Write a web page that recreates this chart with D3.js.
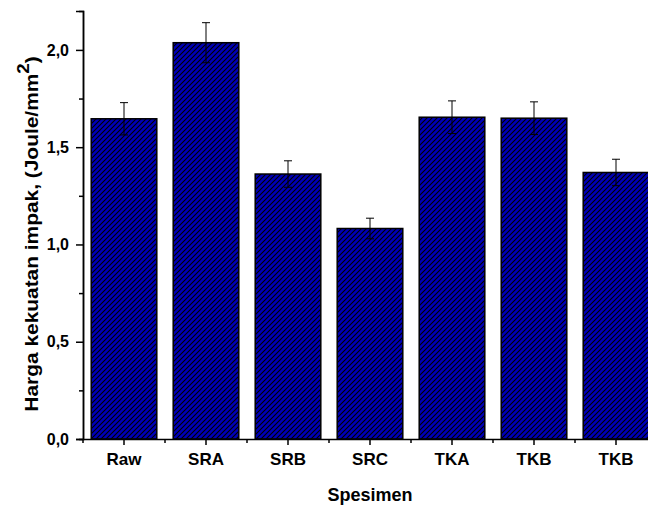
<!DOCTYPE html>
<html>
<head>
<meta charset="utf-8">
<script src="https://cdn.jsdelivr.net/npm/d3@7"></script>
<style>
  body { margin: 0; background: #fff; }
  text { font-family: "Liberation Sans", Arial, sans-serif; font-weight: bold; }
</style>
</head>
<body>
<div id="chart"></div>
<script>
var categories = ["Raw", "SRA", "SRB", "SRC", "TKA", "TKB", "TKB2"];
var labels = ["Raw", "SRA", "SRB", "SRC", "TKA", "TKB", "TKB"];
var values = [1.646, 2.037, 1.362, 1.082, 1.654, 1.649, 1.370];
var errors = [0.083, 0.103, 0.068, 0.053, 0.084, 0.084, 0.068];
var yTicks = [0, 0.5, 1.0, 1.5, 2.0];

var W = 648, H = 505;
var margin = {top: 11, left: 83, bottom: 66};
var plotH = H - margin.top - margin.bottom;

var svg = d3.select("#chart").append("svg")
    .attr("width", W)
    .attr("height", H);

// hatch pattern
var defs = svg.append("defs");
var pat = defs.append("pattern")
    .attr("id", "hatch")
    .attr("patternUnits", "userSpaceOnUse")
    .attr("width", 5)
    .attr("height", 5);
pat.append("rect").attr("width", 5).attr("height", 5).attr("fill", "#0000b8");
pat.append("path")
    .attr("d", "M-1,1 l2,-2 M0,5 l5,-5 M4,6 l2,-2")
    .attr("stroke", "#000")
    .attr("stroke-width", 1.1);

var x = d3.scaleBand()
    .domain(categories)
    .range([margin.left, margin.left + 574])
    .paddingInner(0.2)
    .paddingOuter(0.1);

var y = d3.scaleLinear()
    .domain([0, 2.2])
    .range([margin.top + plotH, margin.top]);

var fmt = function(d) { return d3.format(".1f")(d).replace(".", ","); };

// bars
svg.selectAll(".bar")
    .data(values)
  .enter().append("rect")
    .attr("class", "bar")
    .attr("x", function(d, i) { return x(categories[i]); })
    .attr("width", x.bandwidth())
    .attr("y", function(d) { return y(d); })
    .attr("height", function(d) { return y(0) - y(d); })
    .attr("fill", "url(#hatch)")
    .attr("stroke", "#000")
    .attr("stroke-width", 1.5);

// error bars
var eb = svg.selectAll(".err")
    .data(values)
  .enter().append("g")
    .attr("class", "err")
    .attr("stroke", "#000")
    .attr("stroke-width", 1);
eb.append("line")
    .attr("x1", function(d, i) { return x(categories[i]) + x.bandwidth() / 2; })
    .attr("x2", function(d, i) { return x(categories[i]) + x.bandwidth() / 2; })
    .attr("y1", function(d, i) { return y(d + errors[i]); })
    .attr("y2", function(d, i) { return y(d - errors[i]); });
[1, -1].forEach(function(s) {
  eb.append("line")
      .attr("x1", function(d, i) { return x(categories[i]) + x.bandwidth() / 2 - 4; })
      .attr("x2", function(d, i) { return x(categories[i]) + x.bandwidth() / 2 + 4; })
      .attr("y1", function(d, i) { return y(d + s * errors[i]); })
      .attr("y2", function(d, i) { return y(d + s * errors[i]); });
});

// y axis
var yAxis = d3.axisLeft(y)
    .tickValues(yTicks)
    .tickFormat(fmt)
    .tickSize(7)
    .tickPadding(7);
var yMinor = d3.axisLeft(y)
    .tickValues([0.25, 0.75, 1.25, 1.75])
    .tickFormat("")
    .tickSize(4);

svg.append("g")
    .attr("class", "y axis")
    .attr("transform", "translate(" + margin.left + ",0)")
    .call(yAxis);
svg.append("g")
    .attr("transform", "translate(" + margin.left + ",0)")
    .call(yMinor);

// x axis
var xAxis = d3.axisBottom(x)
    .tickFormat(function(d, i) { return labels[i]; })
    .tickSize(6)
    .tickPadding(8)
    .tickSizeOuter(0);
svg.append("g")
    .attr("class", "x axis")
    .attr("transform", "translate(0," + y(0) + ")")
    .call(xAxis);

// minor x ticks at band boundaries
var bounds = categories.map(function(c) { return x(c) - x.step() * x.paddingInner() / 2; });
svg.append("g")
    .selectAll("line")
    .data(bounds)
  .enter().append("line")
    .attr("x1", function(d) { return d; })
    .attr("x2", function(d) { return d; })
    .attr("y1", y(0))
    .attr("y2", y(0) + 4)
    .attr("stroke", "#000")
    .attr("stroke-width", 1.5);

svg.selectAll(".domain").attr("stroke-width", 1.5);
svg.selectAll(".tick line").attr("stroke-width", 1.5);
svg.selectAll(".tick text")
    .attr("font-family", "Liberation Sans, Arial, sans-serif")
    .attr("font-weight", "bold")
    .attr("fill", "#000");
svg.selectAll(".y.axis .tick text").attr("font-size", 16);
svg.selectAll(".x.axis .tick text").attr("font-size", 17);

// axis titles
svg.append("text")
    .attr("x", 370)
    .attr("y", 501)
    .attr("text-anchor", "middle")
    .attr("font-size", 18)
    .text("Spesimen");

var yt = svg.append("text")
    .attr("transform", "translate(38," + 234 + ") rotate(-90) scale(1.1,1)")
    .attr("text-anchor", "middle")
    .attr("font-size", 19);
yt.append("tspan").text("Harga kekuatan impak, (Joule/mm");
yt.append("tspan").attr("dy", -9).attr("font-size", 17).text("2");
yt.append("tspan").attr("dy", 9).text(")");
</script>
</body>
</html>
